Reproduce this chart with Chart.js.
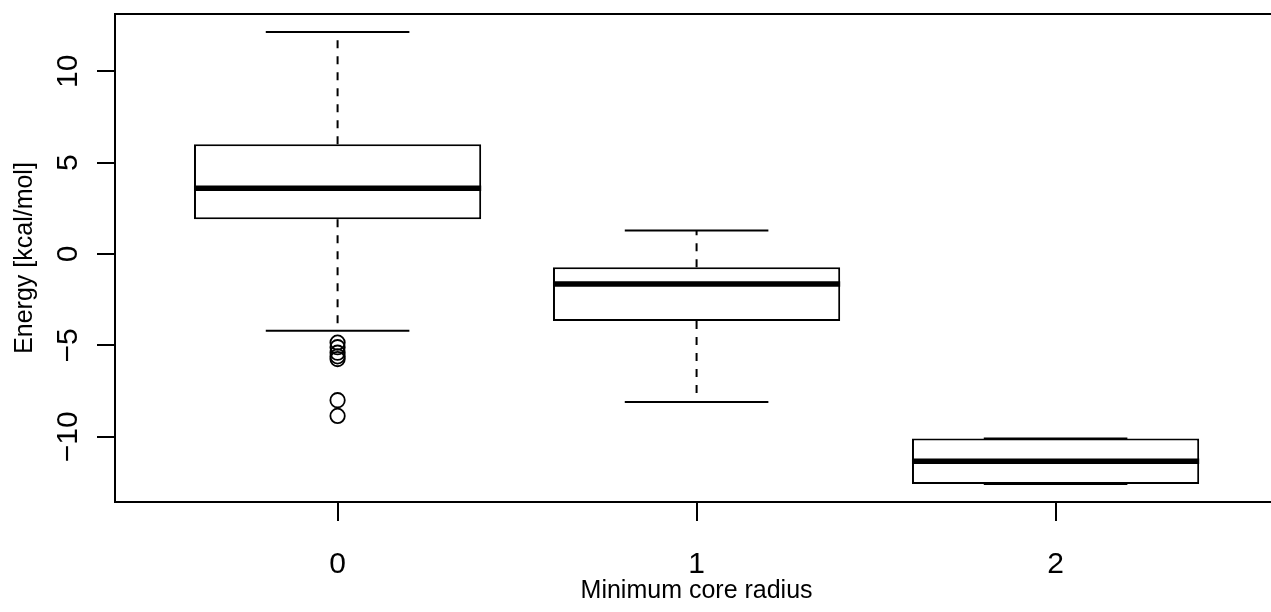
<!DOCTYPE html>
<html>
<head>
<meta charset="utf-8">
<script src="https://cdn.jsdelivr.net/npm/chart.js@4.4.1/dist/chart.umd.min.js"></script>
<style>
  html, body { margin: 0; padding: 0; background: #fff; overflow: hidden; width: 1271px; height: 612px; }
  canvas { display: block; width: 1271px; height: 612px; }
</style>
</head>
<body>
<canvas id="c" width="1271" height="612"></canvas>
<script>
// ---- data ----
const categories   = ['0', '1', '2'];
const whiskerLow   = [-4.2, -8.1, -12.58];
const quartile1    = [1.9, -3.67, -12.58];
const medians      = [3.6, -1.64, -11.34];
const quartile3    = [6.0, -0.73, -10.09];
const whiskerHigh  = [12.14, 1.28, -10.09];
const outlierGroup = [0, 0, 0, 0, 0, 0, 0];
const outlierValue = [-4.85, -5.1, -5.4, -5.6, -5.75, -8.0, -8.86];
const yTicks       = [-10, -5, 0, 5, 10];
const xTitle       = 'Minimum core radius';
const yTitle       = 'Energy [kcal/mol]';

const FONT = "'Liberation Sans', Arial, Helvetica, sans-serif";
const INK = '#000';

// ---- build datasets ----
const boxData = categories.map((c, i) => ({ x: i, y: [quartile1[i], quartile3[i]] }));
const medianData = [], whiskerData = [], capData = [];
categories.forEach((c, i) => {
  medianData.push({ x: i - 0.4, y: medians[i] }, { x: i + 0.4, y: medians[i] }, { x: i, y: null });
  whiskerData.push({ x: i, y: quartile3[i] }, { x: i, y: whiskerHigh[i] }, { x: i, y: null });
  whiskerData.push({ x: i, y: quartile1[i] }, { x: i, y: whiskerLow[i] }, { x: i, y: null });
  capData.push({ x: i - 0.2, y: whiskerHigh[i] }, { x: i + 0.2, y: whiskerHigh[i] }, { x: i, y: null });
  capData.push({ x: i - 0.2, y: whiskerLow[i] }, { x: i + 0.2, y: whiskerLow[i] }, { x: i, y: null });
});
const outlierData = outlierValue.map((v, k) => ({ x: outlierGroup[k], y: v }));

// plot frame (right side lies just beyond the visible picture) and the x-axis title,
// centred on the full plot region that runs past the right edge of the picture
const frame = {
  id: 'frame',
  afterDraw(chart) {
    const a = chart.chartArea, ctx = chart.ctx;
    const xs = chart.scales.x;
    const plotRight = xs.getPixelForValue(categories.length - 0.5 + 0.12);
    ctx.save();
    ctx.strokeStyle = INK;
    ctx.lineWidth = 2;
    ctx.beginPath();
    ctx.moveTo(chart.width, a.top);
    ctx.lineTo(a.left, a.top);
    ctx.lineTo(a.left, a.bottom);
    ctx.lineTo(chart.width, a.bottom);
    ctx.stroke();
    ctx.fillStyle = INK;
    ctx.font = '25px ' + FONT;
    ctx.textAlign = 'center';
    ctx.textBaseline = 'middle';
    ctx.fillText(xTitle, (a.left + plotRight) / 2, 591);
    ctx.restore();
  }
};

Chart.defaults.font.family = FONT;
Chart.defaults.font.size = 25;
Chart.defaults.color = INK;

new Chart(document.getElementById('c'), {
  type: 'bar',
  data: {
    datasets: [
      { type: 'line', data: medianData, borderColor: INK, borderWidth: 5.5, pointRadius: 0,
        spanGaps: false, borderCapStyle: 'butt', order: 0 },
      { type: 'line', data: capData, borderColor: INK, borderWidth: 2, pointRadius: 0,
        spanGaps: false, order: 1 },
      { type: 'line', data: whiskerData, borderColor: INK, borderWidth: 2, pointRadius: 0,
        borderDash: [8, 8], spanGaps: false, order: 2 },
      { type: 'line', data: outlierData, showLine: false, pointStyle: 'circle', pointRadius: 7.2,
        pointBorderWidth: 1.8, pointBorderColor: INK, pointBackgroundColor: 'rgba(0,0,0,0)',
        order: 1 },
      { type: 'bar', data: boxData, backgroundColor: '#fff', borderColor: INK, borderWidth: 2,
        borderSkipped: false, categoryPercentage: 0.8, barPercentage: 1.0, order: 3 }
    ]
  },
  options: {
    responsive: false,
    animation: false,
    events: [],
    layout: { padding: { top: 14, right: 0, left: 0, bottom: 0 } },
    plugins: { legend: { display: false }, tooltip: { enabled: false } },
    scales: {
      x: {
        type: 'linear',
        offset: false,
        min: -0.62, max: 2.575,
        afterBuildTicks: s => { s.ticks = categories.map((c, i) => ({ value: i })); },
        afterFit: s => { s.height = 110; s.paddingLeft = 0; s.paddingRight = 0; },
        ticks: { callback: v => categories[v], padding: 26, font: { size: 30 }, color: INK,
                 maxRotation: 0, autoSkip: false },
        grid: { display: true, offset: false, drawOnChartArea: false, drawTicks: true, tickLength: 19,
                color: INK, lineWidth: 2 },
        border: { display: false },
        title: { display: false }
      },
      y: {
        type: 'linear',
        min: -13.57, max: 13.13,
        afterBuildTicks: s => { s.ticks = yTicks.map(v => ({ value: v })); },
        afterFit: s => { s.width = 115; s.paddingTop = 0; s.paddingBottom = 0; },
        ticks: { minRotation: 90, maxRotation: 90, crossAlign: 'center', padding: 3,
                 callback: v => String(v).replace('-', '\u2212'), font: { size: 30 }, color: INK },
        grid: { display: true, drawOnChartArea: false, drawTicks: true, tickLength: 18,
                color: INK, lineWidth: 2 },
        border: { display: false },
        title: { display: true, text: yTitle, font: { size: 25 }, color: INK,
                 padding: { top: 10, bottom: 0 } }
      }
    }
  },
  plugins: [frame]
});
</script>
</body>
</html>
